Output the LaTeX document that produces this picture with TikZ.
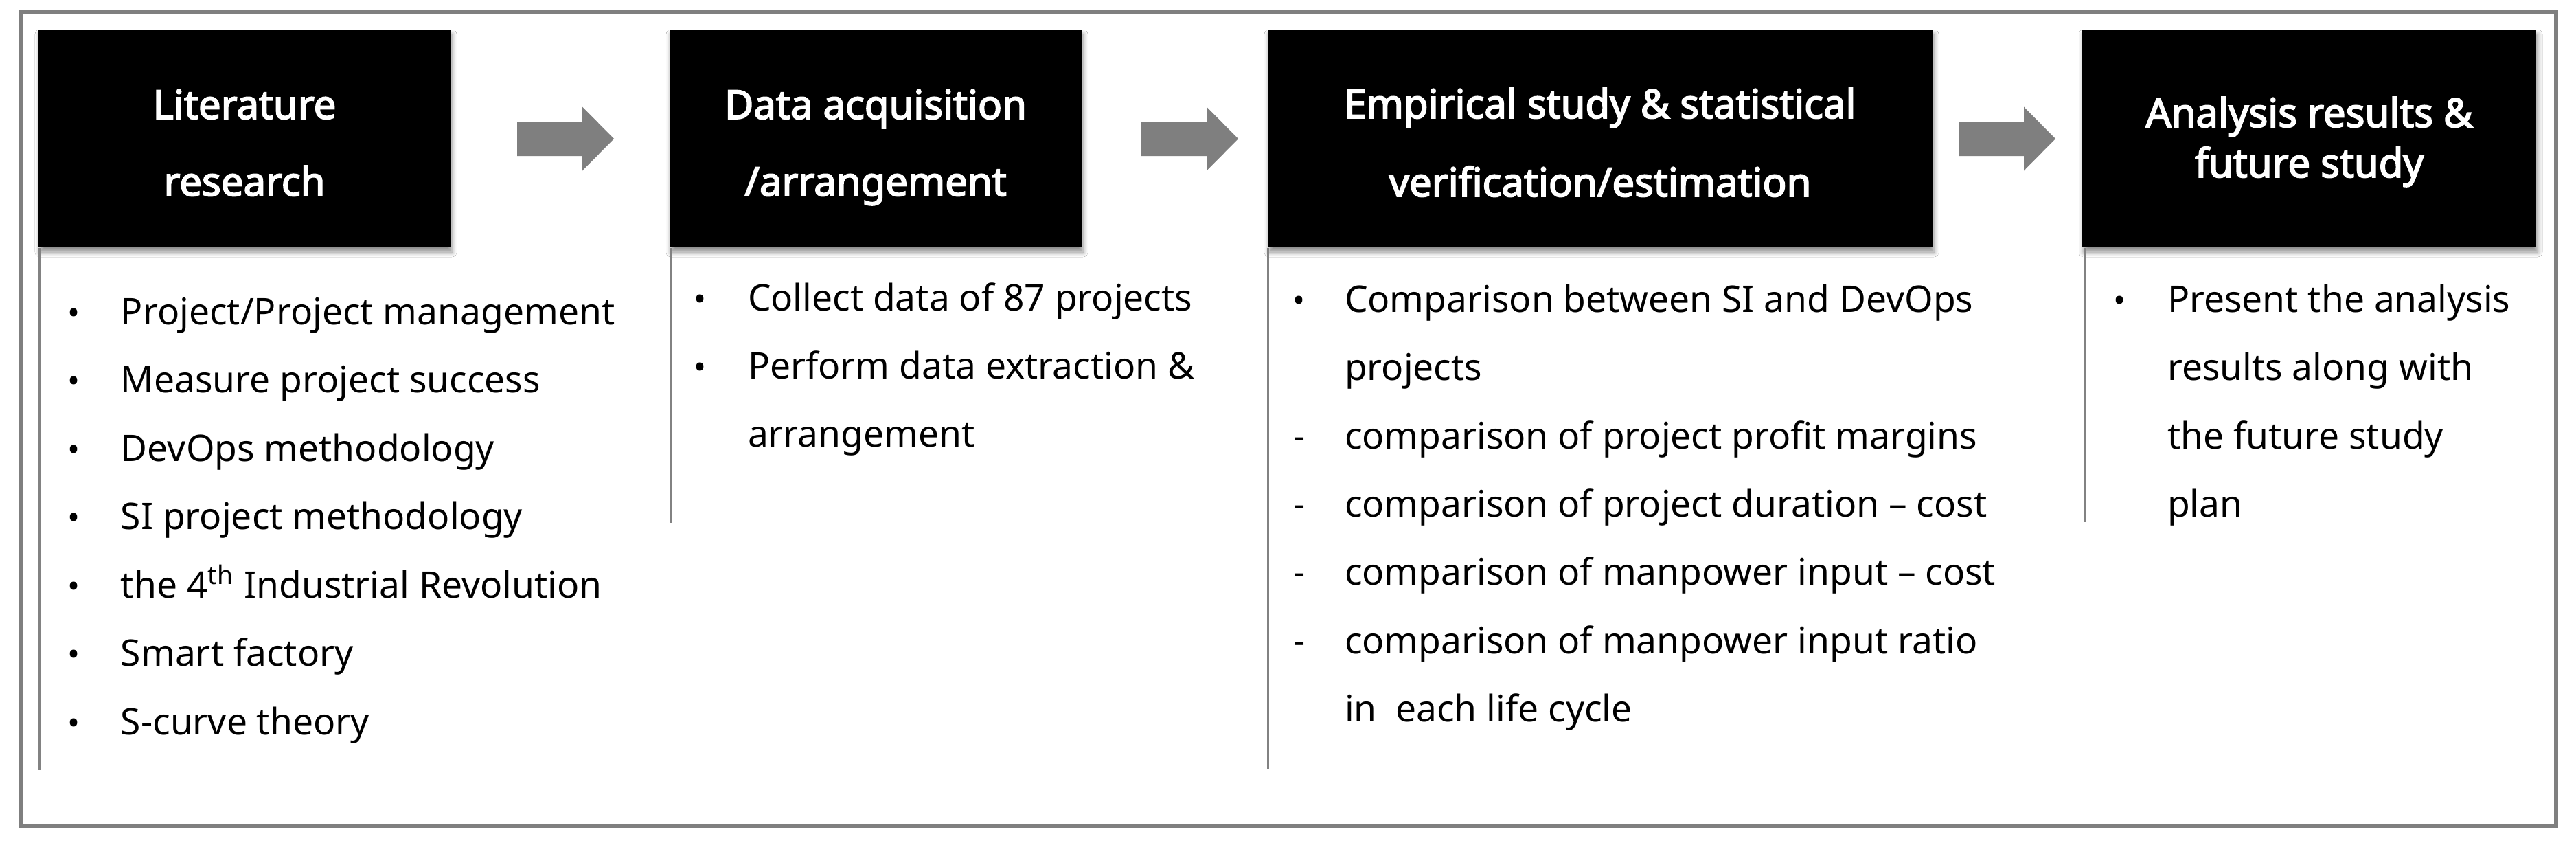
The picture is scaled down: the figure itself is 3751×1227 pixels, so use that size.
\documentclass[tikz,border=0pt]{standalone}
\usepackage{fontspec}
\setmainfont{Noto Sans}
\newfontfamily\headfont{Noto Sans}[FakeBold=3]
\usetikzlibrary{calc,shadows.blur}
\definecolor{framegray}{RGB}{127,127,127}
\definecolor{arrowgray}{RGB}{127,127,127}
\definecolor{linegray}{RGB}{130,130,130}
\begin{document}
\begin{tikzpicture}[x=0.2pt, y=-0.2pt,
  headbox/.style={fill=black, draw=none, minimum width=#1, minimum height=63.4pt, inner sep=0pt,
     blur shadow={shadow xshift=0.4pt, shadow yshift=-1.4pt, shadow blur steps=6, shadow opacity=45, shadow blur radius=1.4pt}},
  headtext/.style={anchor=base, text=white, inner sep=0pt, font=\headfont\fontsize{11.6}{13}\selectfont},
  bodytext/.style={anchor=base west, inner sep=0pt, font=\fontsize{10.66}{12}\selectfont},
  marker/.style={anchor=base, inner sep=0pt, font=\fontsize{9.6}{12}\selectfont},
  dashmark/.style={anchor=base, inner sep=0pt, font=\fontsize{10.66}{12}\selectfont},
  colline/.style={draw=linegray, line width=0.6pt},
  blockarrow/.pic={\fill[arrowgray] (0,-25) -- (95,-25) -- (95,-46.5) -- (141,0) -- (95,46.5) -- (95,25) -- (0,25) -- cycle;}
]
\useasboundingbox (0,0) rectangle (3751,1227);
\fill[white] (0,0) rectangle (3751,1227);
\draw[draw=framegray, line width=1.2pt] (30,18) rectangle (3722,1202);

% heading boxes
\node[headbox=120pt] (b1) at (356,201.5) {};
\node[headbox=120pt] (b2) at (1275,201.5) {};
\node[headbox=193.6pt] (b3) at (2330,201.5) {};
\node[headbox=132.2pt] (b4) at (3362.5,201.5) {};

\node[headtext] (h1a) at (356,173) {Literature};
\node[headtext] (h1b) at (356,285) {research};
\node[headtext] (h2a) at (1275,173) {Data acquisition};
\node[headtext] (h2b) at (1275,285) {/arrangement};
\node[headtext] (h3a) at (2330,172) {Empirical study \& statistical};
\node[headtext] (h3b) at (2330,286) {verification/estimation};
\node[headtext] (h4a) at (3362.5,185) {Analysis results \&};
\node[headtext] (h4b) at (3362.5,258) {future study};

% block arrows
\pic (a1) at (753,202) {blockarrow};
\pic (a2) at (1662,202) {blockarrow};
\pic (a3) at (2852,202) {blockarrow};

% column lines
\draw[colline] ($(b1.south west)+(3,0)$) -- ++(0,760);
\draw[colline] ($(b2.south west)+(2,0)$) -- ++(0,400);
\draw[colline] ($(b3.south west)+(1,0)$) -- ++(0,759);
\draw[colline] ($(b4.south west)+(4,0)$) -- ++(0,399);

% column 1
\node[marker] (m11) at (108,472) {•};
\node[bodytext] (t11) at (175,472) {Project/Project management};
\node[marker] (m12) at (108,571.5) {•};
\node[bodytext] (t12) at (175,571.5) {Measure project success};
\node[marker] (m13) at (108,671) {•};
\node[bodytext] (t13) at (175,671) {DevOps methodology};
\node[marker] (m14) at (108,770.5) {•};
\node[bodytext] (t14) at (175,770.5) {SI project methodology};
\node[marker] (m15) at (108,870) {•};
\node[bodytext] (t15) at (175,870) {the 4\textsuperscript{th} Industrial Revolution};
\node[marker] (m16) at (108,969.5) {•};
\node[bodytext] (t16) at (175,969.5) {Smart factory};
\node[marker] (m17) at (108,1069) {•};
\node[bodytext] (t17) at (175,1069) {S-curve theory};

% column 2
\node[marker] (m21) at (1020,452) {•};
\node[bodytext] (t21) at (1088,452) {Collect data of 87 projects};
\node[marker] (m22) at (1020,551) {•};
\node[bodytext] (t22) at (1088,551) {Perform data extraction \&};
\node[bodytext] (t23) at (1088,650) {arrangement};

% column 3
\node[marker] (m31) at (1892,454) {•};
\node[bodytext] (t31) at (1957,454) {Comparison between SI and DevOps};
\node[bodytext] (t32) at (1957,553) {projects};
\node[dashmark] (m33) at (1892,653) {-};
\node[bodytext] (t33) at (1957,653) {comparison of project profit margins};
\node[dashmark] (m34) at (1892,752) {-};
\node[bodytext] (t34) at (1957,752) {comparison of project duration – cost};
\node[dashmark] (m35) at (1892,851) {-};
\node[bodytext] (t35) at (1957,851) {comparison of manpower input – cost};
\node[dashmark] (m36) at (1892,951) {-};
\node[bodytext] (t36) at (1957,951) {comparison of manpower input ratio};
\node[bodytext] (t37) at (1957,1050) {in\ \ each life cycle};

% column 4
\node[marker] (m41) at (3087,454) {•};
\node[bodytext] (t41) at (3155,454) {Present the analysis};
\node[bodytext] (t42) at (3155,553) {results along with};
\node[bodytext] (t43) at (3155,653) {the future study};
\node[bodytext] (t44) at (3155,752) {plan};
\end{tikzpicture}
\end{document}
